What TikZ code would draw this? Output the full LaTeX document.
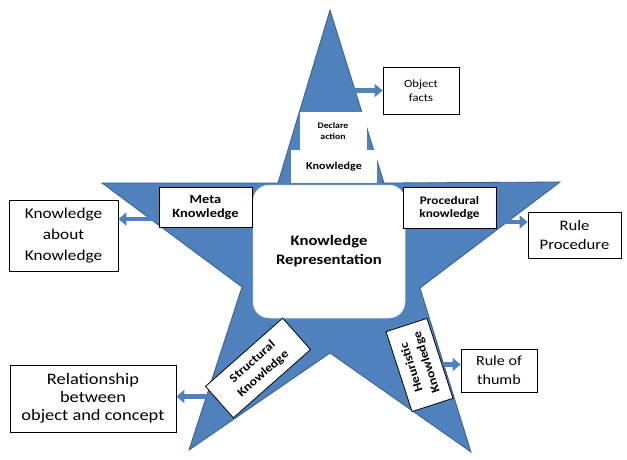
\documentclass[tikz,border=0pt]{standalone}
\usepackage{fontspec}
\setmainfont{Carlito}[FakeStretch=1.15]
\usetikzlibrary{arrows.meta}
\definecolor{starblue}{HTML}{4F81BD}
\definecolor{stardark}{HTML}{385D8A}
\pgfdeclarelayer{bg}
\pgfdeclarelayer{mid}
\pgfsetlayers{bg,mid,main}
\newcommand\fsz[2]{\fontsize{#1}{#2}\selectfont}

\begin{document}
\begin{tikzpicture}[x=1pt,y=-1pt,
  txtbox/.style={draw=black, line width=0.8pt, fill=white, align=center, inner sep=0pt},
  plainbox/.style={fill=white, align=center, inner sep=0pt},
  blockarrow/.style={draw=starblue, line width=4.5pt, -{Triangle[length=8pt,width=13pt]}},
]
\useasboundingbox (0,0) rectangle (627,459);

% five-pointed star
\begin{pgfonlayer}{bg}
\filldraw[fill=starblue, draw=stardark, line width=0.8pt, line join=miter]
  (330,10) -- (384,183) -- (560,182) -- (420,288) -- (471,452) -- (330,353)
  -- (189,450) -- (242,287) -- (102,183) -- (278,183) -- cycle;
\end{pgfonlayer}

% centre
\node[plainbox, draw=starblue!25!white, line width=0.5pt, rounded corners=16pt,
      minimum width=152pt, minimum height=133pt, font=\bfseries\fsz{14.5}{19}]
      (kr) at (329,251.5) {Knowledge\\Representation};

% top arm
\node[plainbox, minimum width=67pt, minimum height=38pt, font=\bfseries\fsz{8.5}{11}]
      (decl) at (333,131) {Declare\\action};
\node[plainbox, minimum width=86pt, minimum height=33pt, font=\bfseries\fsz{10.5}{12}]
      (dk) at (334,166.5) {Knowledge};
\node[txtbox, minimum width=76pt, minimum height=47pt, font=\fsz{11}{14}]
      (obj) at (421,90.5) {Object\\facts};

% left arm
\node[txtbox, minimum width=93pt, minimum height=40pt, font=\bfseries\fsz{12.5}{14}]
      (meta) at (205.5,207) {Meta\\Knowledge};
\node[txtbox, minimum width=109pt, minimum height=71pt, font=\fsz{15}{21}]
      (kak) at (63.5,235.5) {Knowledge\\about\\Knowledge};

% right arm
\node[txtbox, minimum width=93pt, minimum height=41pt, font=\bfseries\fsz{11.5}{13}]
      (proc) at (449.5,207.5) {Procedural\\knowledge};
\node[txtbox, minimum width=93pt, minimum height=46pt, font=\fsz{14.5}{19}]
      (rp) at (574.5,235) {Rule\\Procedure};

% lower left arm
\node[txtbox, rotate=41.5, minimum width=103pt, minimum height=42pt, font=\bfseries\fsz{12}{16}]
      (struct) at (258,368) {Structural\\Knowledge};
\node[txtbox, minimum width=166pt, minimum height=67pt, font=\fsz{16}{18}]
      (rel) at (93,398.5) {Relationship\\between\\object and concept};

% lower right arm
\node[txtbox, rotate=108, minimum width=84pt, minimum height=43pt, font=\bfseries\fsz{12}{16}]
      (heur) at (419.5,365) {Heuristic\\Knowledge};
\node[txtbox, minimum width=76pt, minimum height=43pt, font=\fsz{14}{19}]
      (rot) at (499,370.5) {Rule of\\thumb};

% connectors
\coordinate (objtail) at (350,90.5);
\coordinate (k1) at ([yshift=16.5pt]kak.east);
\coordinate (p1) at ([yshift=13pt]rp.west);
\coordinate (h1) at ([yshift=6pt]rot.west);
\coordinate (r1) at ([yshift=2pt]rel.east);
\begin{pgfonlayer}{mid}
\draw[blockarrow] (objtail) -- (obj.west);
\draw[blockarrow] (meta.center |- k1) -- (k1);
\draw[blockarrow] (proc.center |- p1) -- (p1);
\draw[blockarrow] (struct.west |- r1) -- (r1);
\draw[blockarrow] (heur.center |- h1) -- (h1);
\end{pgfonlayer}
\end{tikzpicture}
\end{document}
